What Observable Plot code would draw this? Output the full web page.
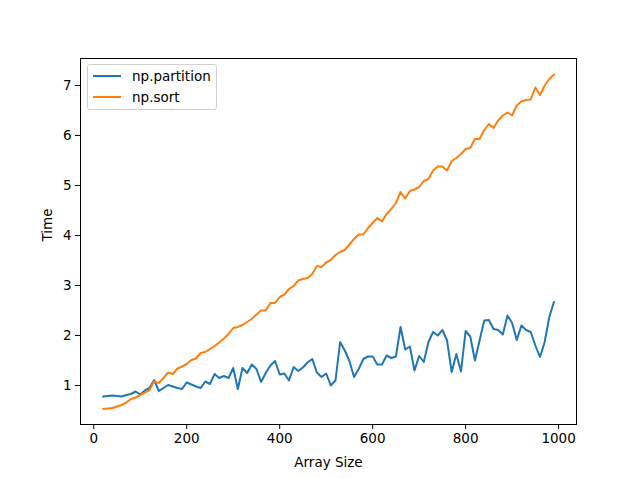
<!DOCTYPE html>
<html>
<head>
<meta charset="utf-8">
<script src="https://cdn.jsdelivr.net/npm/d3@7"></script>
<script src="https://cdn.jsdelivr.net/npm/@observablehq/plot@0.6"></script>
<style>
  html, body { margin: 0; padding: 0; background: #fff; }
  #wrap { position: relative; width: 640px; height: 478px; font-family: "DejaVu Sans", sans-serif; }
  #legend { position: absolute; left: 87px; top: 64px; width: 130px; height: 46px; box-sizing: border-box;
    border: 1px solid #d0d0d0; border-radius: 3px; background: rgba(255,255,255,0.8); font-size: 13.5px; color: #000; }
  .item { position: absolute; left: 0; height: 16px; display: flex; align-items: center; }
  .sw { width: 28px; height: 2px; margin-left: 5px; margin-right: 11px; }
</style>
</head>
<body>
<div id="wrap">
  <div id="chart"></div>
  <div id="legend">
    <div class="item" style="top:3px"><div class="sw" style="background:#1f77b4"></div><span>np.partition</span></div>
    <div class="item" style="top:24px"><div class="sw" style="background:#ff7f0e"></div><span>np.sort</span></div>
  </div>
</div>
<script>
const sizes = [20,30,40,50,60,70,80,90,100,110,120,130,140,150,160,170,180,190,200,210,220,230,240,250,260,270,280,290,300,310,320,330,340,350,360,370,380,390,400,410,420,430,440,450,460,470,480,490,500,510,520,530,540,550,560,570,580,590,600,610,620,630,640,650,660,670,680,690,700,710,720,730,740,750,760,770,780,790,800,810,820,830,840,850,860,870,880,890,900,910,920,930,940,950,960,970,980,990];

const partitionTimes = [0.78,0.79,0.80,0.79,0.78,0.81,0.83,0.88,0.82,0.90,0.95,1.11,0.89,0.95,1.01,0.98,0.95,0.93,1.06,1.02,
  0.98,0.95,1.08,1.03,1.23,1.15,1.19,1.15,1.35,0.93,1.35,1.25,1.42,1.33,1.07,1.25,1.40,1.49,1.22,1.24,
  1.10,1.37,1.29,1.36,1.46,1.53,1.26,1.17,1.24,1.00,1.10,1.87,1.70,1.49,1.17,1.33,1.53,1.58,1.58,1.42,
  1.42,1.60,1.55,1.58,2.17,1.72,1.78,1.30,1.59,1.47,1.87,2.07,2.00,2.11,1.90,1.27,1.63,1.28,2.09,1.98,
  1.50,1.90,2.30,2.31,2.13,2.11,2.02,2.40,2.25,1.91,2.20,2.11,2.07,1.80,1.57,1.87,2.37,2.67];

const sortTimes = [0.53,0.54,0.55,0.58,0.61,0.66,0.73,0.76,0.81,0.86,0.91,1.08,1.05,1.15,1.26,1.23,1.34,1.38,1.43,1.51,
  1.54,1.65,1.67,1.73,1.79,1.86,1.94,2.03,2.15,2.17,2.21,2.27,2.33,2.42,2.50,2.50,2.65,2.65,2.77,2.82,
  2.93,2.99,3.10,3.13,3.15,3.23,3.39,3.37,3.46,3.51,3.61,3.67,3.71,3.82,3.93,4.02,4.02,4.15,4.25,4.35,
  4.28,4.43,4.53,4.65,4.87,4.74,4.89,4.92,4.97,5.09,5.13,5.30,5.38,5.38,5.30,5.49,5.55,5.63,5.73,5.75,
  5.93,5.93,6.11,6.23,6.15,6.30,6.40,6.46,6.40,6.60,6.68,6.71,6.72,6.96,6.81,7.00,7.13,7.22];

const xTicks = [0,200,400,600,800,1000];
const yTicks = [1,2,3,4,5,6,7];
const seriesNames = ["np.partition","np.sort"];
const seriesColors = ["#1f77b4","#ff7f0e"];

const partData = sizes.map((s,i) => ({size: s, time: partitionTimes[i]}));
const sortData = sizes.map((s,i) => ({size: s, time: sortTimes[i]}));

const chart = Plot.plot({
  width: 640,
  height: 478,
  marginLeft: 80,
  marginRight: 64,
  marginTop: 58,
  marginBottom: 54,
  style: {fontFamily: "DejaVu Sans, sans-serif", fontSize: "13.5px", color: "#000", background: "#fff"},
  x: {domain: [-28.5, 1038.5]},
  y: {domain: [0.22, 7.54]},
  marks: [
    Plot.axisX({ticks: xTicks, tickSize: 5, tickPadding: 4, label: null, tickFormat: d => String(d)}),
    Plot.axisY({ticks: yTicks, tickSize: 5, tickPadding: 4, label: null, tickFormat: d => String(d)}),
    Plot.line(partData, {x: "size", y: "time", stroke: seriesColors[0], strokeWidth: 2}),
    Plot.line(sortData, {x: "size", y: "time", stroke: seriesColors[1], strokeWidth: 2}),
    Plot.frame({stroke: "#000", strokeWidth: 1}),
    Plot.text(["Array Size"], {frameAnchor: "bottom", dy: 38, lineAnchor: "middle", fontSize: 13.5}),
    Plot.text(["Time"], {frameAnchor: "left", dx: -33, rotate: -90, lineAnchor: "middle", fontSize: 13.5})
  ]
});
document.getElementById("chart").appendChild(chart);
</script>
</body>
</html>
